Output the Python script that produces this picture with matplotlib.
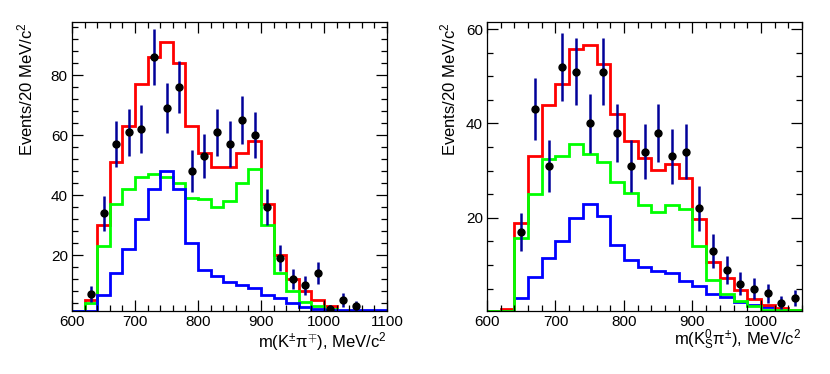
import matplotlib
matplotlib.use("Agg")
import matplotlib.pyplot as plt
import numpy as np
from matplotlib.ticker import MultipleLocator

plt.rcParams["font.family"] = ["Liberation Sans", "DejaVu Sans"]
plt.rcParams["mathtext.fontset"] = "custom"
plt.rcParams["mathtext.rm"] = "Liberation Sans"
plt.rcParams["mathtext.it"] = "Liberation Sans"
plt.rcParams["mathtext.bf"] = "Liberation Sans:bold"

# left panel: m(K+- pi-+), 20 MeV bins from 600 to 1100
left_edges = np.arange(600, 1101, 20)
left_total = [1.5, 5, 30, 51, 63, 77, 86, 91, 84, 63, 54, 49.5, 49.5, 54, 58,
              37, 20, 12, 8, 5, 3, 1.5, 1.4, 1.4, 1.4]
left_green = [1.5, 4, 23, 37, 42, 46, 47, 46, 44, 39, 38.7, 36, 38, 44, 48.6,
              30, 14, 8, 4.4, 3, 2, 1.5, 1.5, 1.5, 1.5]
left_blue = [1.5, 1.5, 6.7, 14, 22, 32, 42, 48, 42, 24, 15, 13, 11, 10, 9,
             6.7, 5.6, 3.9, 2.8, 2, 1.6, 1.6, 1.6, 1.6, 1.6]
left_x = [630, 650, 670, 690, 710, 730, 750, 770, 790, 810, 830, 850, 870, 890,
          910, 930, 950, 970, 990, 1010, 1030, 1050]
left_n = [7, 34, 57, 61, 62, 86, 69, 76, 48, 53, 61, 57, 65, 60,
          36, 19, 12, 10, 14, 2, 5, 3]

# right panel: m(K0S pi+-), 20 MeV bins from 600 to 1060
right_edges = np.arange(600, 1061, 20)
right_total = [0.3, 0.7, 19, 33, 44, 48.4, 55.8, 56.7, 52.6, 42, 36.2, 32.7,
               30.2, 31.3, 28.5, 19.8, 10.6, 7.2, 4.6, 2.7, 1.5, 0.8, 0.4]
right_green = [0.3, 0.3, 15.8, 25.1, 32.5, 33.2, 35.7, 33.5, 31.8, 27.5, 25.3,
               22.8, 21.2, 22.7, 21.8, 14.1, 6.8, 3.8, 2.4, 1.3, 0.5, 0.4, 0.4]
right_blue = [0.3, 0.3, 3.1, 7.5, 11.4, 15, 20, 23, 20.3, 14.2, 11, 9.6, 8.7,
              8.2, 6.6, 5.5, 3.9, 3.2, 2.1, 1.5, 1.2, 0.7, 0.4]
right_x = [650, 670, 690, 710, 730, 750, 770, 790, 810, 830, 850, 870, 890,
           910, 930, 950, 970, 990, 1010, 1030, 1050]
right_n = [17, 43, 31, 52, 51, 40, 51, 38, 31, 34, 38, 33, 34,
           22, 13, 9, 6, 5, 4, 2, 3]

fig = plt.figure(figsize=(8.3, 3.74), dpi=100)
W, H = 830, 374
ax1 = fig.add_axes([72 / W, 1 - 311 / H, 315 / W, 289 / H])
ax2 = fig.add_axes([487 / W, 1 - 311 / H, 315 / W, 289 / H])


def style(ax, xmin, xmax, ymin, ymax, ystep, yminor):
    ax.set_xlim(xmin, xmax)
    ax.set_ylim(ymin, ymax)
    ax.xaxis.set_major_locator(MultipleLocator(100))
    ax.xaxis.set_minor_locator(MultipleLocator(20))
    ax.yaxis.set_major_locator(MultipleLocator(ystep))
    ax.yaxis.set_minor_locator(MultipleLocator(yminor))
    ax.tick_params(which="both", direction="in", top=True, right=True,
                   labelsize=11, pad=3, width=0.9)
    ax.tick_params(which="major", length=8)
    ax.tick_params(which="minor", length=4.5)
    for s in ax.spines.values():
        s.set_linewidth(0.9)


def draw(ax, edges, total, green, blue, x, n, order):
    lines = {"r": (total, "#ff0000"), "g": (green, "#00ff00"), "b": (blue, "#0000ff")}
    for key in order:
        vals, col = lines[key]
        ax.stairs(vals, edges, color=col, linewidth=2.0, baseline=None)
    n = np.asarray(n, dtype=float)
    ax.errorbar(x, n, yerr=np.sqrt(n), fmt="o", color="black", ms=5,
                ecolor="#000099", elinewidth=1.8, capsize=0, zorder=5)


draw(ax1, left_edges, left_total, left_green, left_blue, left_x, left_n, "rgb")
style(ax1, 600, 1100, 1.35, 97.7, 20, 4)

draw(ax2, right_edges, right_total, right_green, right_blue, right_x, right_n, "brg")
style(ax2, 600, 1060, 0.25, 61.5, 20, 5)

fig.text(25 / W, 1 - 22 / H, "Events/20 MeV/c$^{2}$", rotation=90,
         ha="center", va="top", fontsize=12)
fig.text(448 / W, 1 - 22 / H, "Events/20 MeV/c$^{2}$", rotation=90,
         ha="center", va="top", fontsize=12)
fig.text(387 / W, 1 - 347 / H, r"m(K$^{\pm}$π$^{\mp}$), MeV/c$^{2}$",
         ha="right", va="baseline", fontsize=12)
fig.text(801 / W, 1 - 345 / H, r"m($\mathrm{K}^{0}_{S}$π$^{\pm}$), MeV/c$^{2}$",
         ha="right", va="baseline", fontsize=12)

fig.savefig("out.png", dpi=100)
